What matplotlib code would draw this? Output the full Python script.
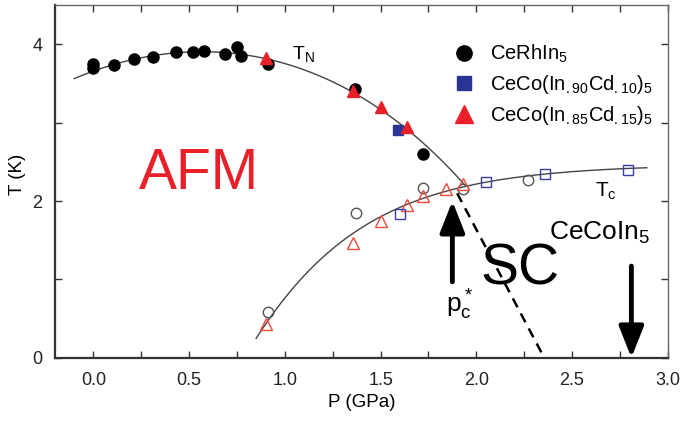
import numpy as np
import matplotlib
matplotlib.use("Agg")
import matplotlib.pyplot as plt
from matplotlib.lines import Line2D
from matplotlib.ticker import MultipleLocator

plt.rcParams['font.family'] = ['Liberation Sans', 'DejaVu Sans']
plt.rcParams['mathtext.default'] = 'regular'

# --- data (P in GPa, T in K) ---
# CeRhIn5, T_N (filled black circles)
rh_p = [0.00, 0.00, 0.11, 0.21, 0.31, 0.43, 0.52, 0.58, 0.69, 0.75, 0.77, 0.91, 1.365, 1.72]
rh_t = [3.75, 3.70, 3.73, 3.81, 3.84, 3.90, 3.90, 3.92, 3.87, 3.96, 3.85, 3.75, 3.43, 2.60]
# CeRhIn5, T_c (open circles)
rh_pc = [0.91, 1.37, 1.72, 1.93, 2.27]
rh_tc = [0.59, 1.85, 2.17, 2.16, 2.27]

# Cd 10% (blue squares)
cd10_p = [1.59]
cd10_t = [2.90]
cd10_pc = [1.60, 2.05, 2.36, 2.79]
cd10_tc = [1.84, 2.24, 2.35, 2.39]

# Cd 15% (red triangles)
cd15_p = [0.90, 1.355, 1.50, 1.64]
cd15_t = [3.83, 3.41, 3.20, 2.95]
cd15_pc = [0.90, 1.355, 1.50, 1.64, 1.72, 1.84, 1.93]
cd15_tc = [0.43, 1.47, 1.75, 1.95, 2.07, 2.16, 2.22]

# guide-to-the-eye curves (knots)
tn_knots_p = [-0.10, 0.00, 0.55, 0.91, 1.29, 1.635, 1.807, 1.94]
tn_knots_t = [3.56, 3.66, 3.90, 3.82, 3.46, 2.94, 2.53, 2.21]
tc_knots_p = [0.85, 1.00, 1.29, 1.50, 1.72, 1.94, 2.12, 2.36, 2.89]
tc_knots_t = [0.26, 0.74, 1.47, 1.80, 2.05, 2.21, 2.28, 2.33, 2.40]
# dashed line toward the T=0 end of the AFM boundary
dash_p = [1.90, 2.355]
dash_t = [2.10, 0.00]

RED = '#e8202a'
RED_OPEN = '#ee4a3a'
BLUE = '#2a3593'
BLUE_OPEN = '#3b3ca8'

fig = plt.figure(figsize=(6.8, 4.21), dpi=100)
ax = fig.add_axes([0.081, 0.150, 0.901, 0.838])

# guide curves
pn = np.linspace(tn_knots_p[0], tn_knots_p[-1], 200)
cn = np.polyfit(tn_knots_p, tn_knots_t, 4)
ax.plot(pn, np.polyval(cn, pn), color='#444444', lw=1.0, zorder=1)

# T_c guide: smooth saturating fit, polynomial in exp(-p/0.5)
pc = np.linspace(tc_knots_p[0], tc_knots_p[-1], 200)
u = np.exp(-np.array(tc_knots_p) / 0.5)
cc = np.polyfit(u, tc_knots_t, 2)
ax.plot(pc, np.polyval(cc, np.exp(-pc / 0.5)), color='#444444', lw=1.0, zorder=1)

ax.plot(dash_p, dash_t, color='black', lw=1.8, ls=(0, (4, 2.8)), zorder=1)

# open symbols (T_c)
ax.plot(rh_pc, rh_tc, 'o', ms=7.5, mfc='none', mec='#555555', mew=1.0, zorder=3)
ax.plot(cd15_pc, cd15_tc, '^', ms=8, mfc='none', mec=RED_OPEN, mew=1.0, zorder=3)
ax.plot(cd10_pc, cd10_tc, 's', ms=7, mfc='none', mec=BLUE_OPEN, mew=1.0, zorder=3)

# filled symbols (T_N)
ax.plot(rh_p, rh_t, 'o', ms=8, color='black', zorder=3)
ax.plot(cd10_p, cd10_t, 's', ms=7.5, color=BLUE, zorder=4)
ax.plot(cd15_p, cd15_t, '^', ms=9, color=RED, zorder=4)

# arrows
astyle = '-|>,head_length=1.9,head_width=0.75'
ax.annotate('', xy=(1.875, 2.00), xytext=(1.875, 0.97),
            arrowprops=dict(arrowstyle=astyle, color='black', lw=3.5,
                            shrinkA=0, shrinkB=0))
ax.annotate('', xy=(2.81, 0.0), xytext=(2.81, 1.17),
            arrowprops=dict(arrowstyle=astyle, color='black', lw=3.5,
                            shrinkA=0, shrinkB=0))

# labels inside the plot
ax.text(0.55, 2.34, 'AFM', color=RED, fontsize=41, ha='center', va='center')
ax.text(2.23, 1.13, 'SC', color='black', fontsize=41, ha='center', va='center')
ax.text(1.04, 3.88, r'T$_N$', fontsize=14, ha='left', va='center')
ax.text(2.62, 2.13, r'T$_c$', fontsize=15, ha='left', va='center')
ax.text(2.38, 1.60, r'CeCoIn$_5$', fontsize=19, ha='left', va='center')
ax.text(1.84, 0.68, r'p$_c^*$', fontsize=19, ha='left', va='center')

# legend
handles = [
    Line2D([], [], ls='none', marker='o', ms=11, color='black'),
    Line2D([], [], ls='none', marker='s', ms=10.5, color=BLUE),
    Line2D([], [], ls='none', marker='^', ms=12.5, color=RED),
]
labels = [r'CeRhIn$_5$', r'CeCo(In$_{.90}$Cd$_{.10}$)$_5$', r'CeCo(In$_{.85}$Cd$_{.15}$)$_5$']
ax.legend(handles, labels, loc='upper left', bbox_to_anchor=(0.635, 0.915),
          frameon=False, fontsize=14.5, handlelength=1.2, handletextpad=0.7,
          labelspacing=0.38, borderaxespad=0)

# axes
ax.set_xlim(-0.2, 3.0)
ax.set_ylim(0, 4.5)
ax.xaxis.set_major_locator(MultipleLocator(0.5))
ax.xaxis.set_minor_locator(MultipleLocator(0.25))
ax.yaxis.set_major_locator(MultipleLocator(2))
ax.yaxis.set_minor_locator(MultipleLocator(1))
ax.tick_params(which='both', direction='in', top=True, right=True,
               length=5, width=1.0, colors='#333333', labelsize=13,
               labelcolor='#222222')
ax.tick_params(axis='x', pad=10)
ax.tick_params(axis='y', pad=9)
ax.xaxis.set_major_formatter(plt.FuncFormatter(lambda v, _: f'{v:.1f}'))
ax.yaxis.set_major_formatter(plt.FuncFormatter(lambda v, _: f'{v:.0f}'))
for side in ['left', 'bottom']:
    ax.spines[side].set_color('#333333')
    ax.spines[side].set_linewidth(1.6)
for side in ['top', 'right']:
    ax.spines[side].set_color('#666666')
    ax.spines[side].set_linewidth(1.0)

ax.set_xlabel('P (GPa)', fontsize=13.5, labelpad=4)
ax.set_ylabel('T (K)', fontsize=13.5)
ax.yaxis.set_label_coords(-0.048, 0.52)

fig.savefig('out.png', dpi=100)
